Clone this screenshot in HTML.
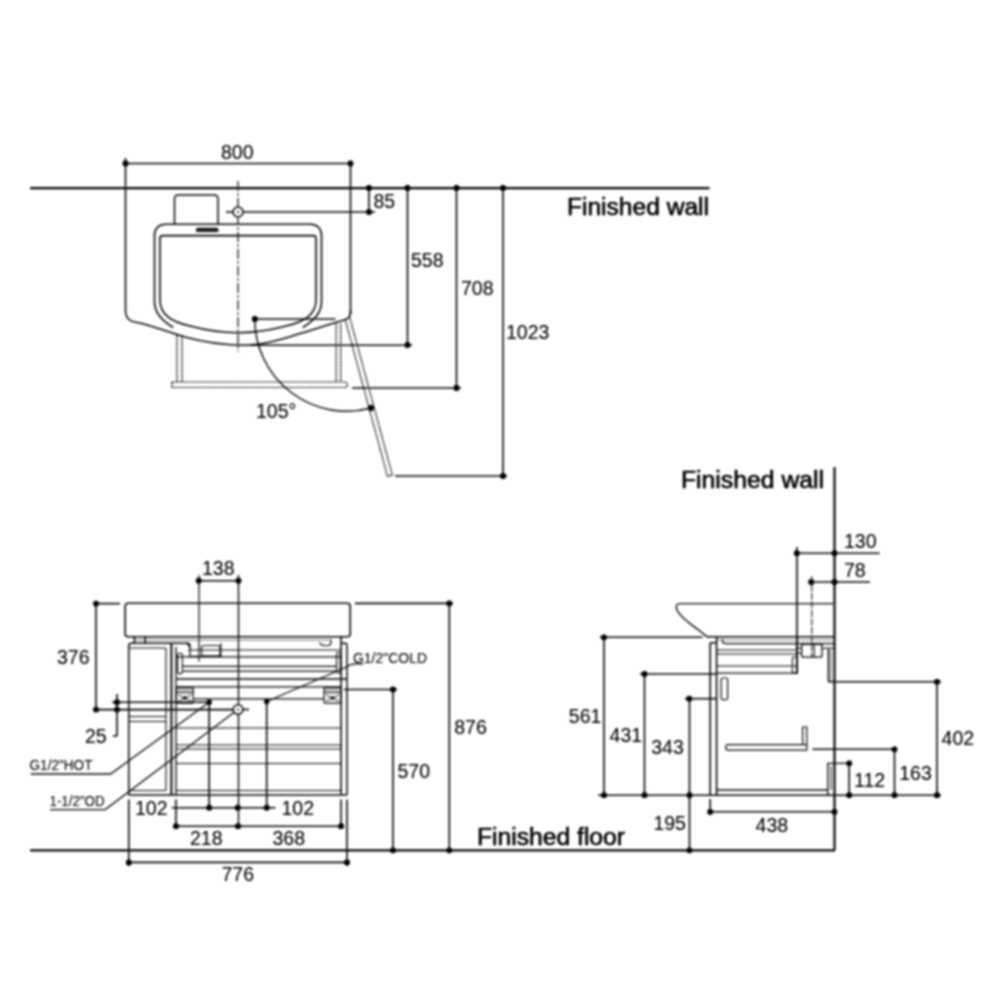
<!DOCTYPE html>
<html><head><meta charset="utf-8"><style>
html,body{margin:0;padding:0;background:#fff;width:1000px;height:1000px;overflow:hidden}
svg{display:block}
text{font-family:"Liberation Sans",sans-serif;fill:#404040;stroke:#404040;stroke-width:0px}
text.big{stroke-width:0.5px}
</style></head><body>
<svg width="1000" height="1000" viewBox="0 0 1000 1000" stroke-linecap="butt">
<defs><filter id="bl" filterUnits="userSpaceOnUse" x="0" y="0" width="1000" height="1000" color-interpolation-filters="sRGB">
<feComponentTransfer><feFuncR type="linear" slope="1.4" intercept="-0.3999999999999999"/><feFuncG type="linear" slope="1.4" intercept="-0.3999999999999999"/><feFuncB type="linear" slope="1.4" intercept="-0.3999999999999999"/></feComponentTransfer>
<feGaussianBlur stdDeviation="1"/></filter></defs>
<rect x="0" y="0" width="1000" height="1000" fill="#fff"/>
<g filter="url(#bl)"><rect x="0" y="0" width="1000" height="1000" fill="#fff"/>
<line x1="30" y1="188.2" x2="709.5" y2="188.2" stroke="#4d4d4d" stroke-width="2.3" />
<text x="567" y="215.3" font-size="23" text-anchor="start" textLength="142" lengthAdjust="spacingAndGlyphs" class="big">Finished wall</text>
<line x1="125.5" y1="163.5" x2="350.5" y2="163.5" stroke="#4d4d4d" stroke-width="1.6" />
<circle cx="125.5" cy="163.5" r="2.9" fill="#222"/>
<circle cx="350.5" cy="163.5" r="2.9" fill="#222"/>
<line x1="125.5" y1="158" x2="125.5" y2="310" stroke="#4d4d4d" stroke-width="1.6" />
<line x1="350.5" y1="163.5" x2="350.5" y2="314" stroke="#4d4d4d" stroke-width="1.6" />
<text x="221" y="158.5" font-size="19.5" text-anchor="start">800</text>
<path d="M125.5,310 C125.5,318 129,321 137,322.5 C150,325 165,331 185,337 C205,342.5 222,345.3 245,345.3" stroke="#4d4d4d" stroke-width="1.6" fill="none" />
<path d="M350.5,310 V312 C350.5,316 349,318.5 345,319.8 C330,324 300,334 280,339.5 C268,343 258,345 245,345.3" stroke="#4d4d4d" stroke-width="1.6" fill="none" />
<path d="M174.5,224.3 V199 C174.5,196.5 176,195 178.5,195 H214 C216.5,195 218,196.5 218,199 V224.3" stroke="#4d4d4d" stroke-width="1.5" fill="none" />
<path d="M173.3,327.5 C164,322 154.5,314 154.5,302 V235 C154.5,228.5 159,224.3 165.5,224.3 H310.5 C317,224.3 321.5,228.5 321.5,235 V302 C321.5,314 312,322 302.7,327.5" stroke="#4d4d4d" stroke-width="1.6" fill="none" />
<rect x="196.5" y="228.3" width="21.5" height="3.2" rx="1.6" stroke="#4d4d4d" stroke-width="1.2" fill="#666"/>
<path d="M160,238 C160,236.2 161,235.6 163,235.6 H313 C315,235.6 316,236.2 316,238 V300 C316,315 304,322 286,326 C271,330 254,332.7 238,332.7 C222,332.7 205,330 190,326 C172,322 160,315 160,300 Z" stroke="#4d4d4d" stroke-width="1.6" fill="none" />
<line x1="238" y1="181" x2="238" y2="352" stroke="#666" stroke-width="1.4" stroke-dasharray="10 2.2 2.5 2.3"/>
<line x1="226" y1="212" x2="375" y2="212" stroke="#4d4d4d" stroke-width="1.6" />
<line x1="369" y1="188" x2="369" y2="212" stroke="#4d4d4d" stroke-width="1.6" />
<circle cx="369" cy="188" r="2.9" fill="#222"/>
<circle cx="369" cy="212" r="2.9" fill="#222"/>
<circle cx="238" cy="212" r="5" stroke="#4d4d4d" stroke-width="1.5" fill="#fff"/>
<circle cx="238" cy="212" r="1.1" fill="#555"/>
<text x="373.5" y="207.5" font-size="19.5" text-anchor="start">85</text>
<line x1="407.5" y1="188" x2="407.5" y2="345" stroke="#4d4d4d" stroke-width="1.6" />
<circle cx="407.5" cy="188" r="2.9" fill="#222"/>
<circle cx="407.5" cy="345" r="2.9" fill="#222"/>
<line x1="250" y1="345.2" x2="412" y2="345.2" stroke="#4d4d4d" stroke-width="1.6" />
<text x="411" y="267.3" font-size="19.5" text-anchor="start">558</text>
<line x1="456.5" y1="188" x2="456.5" y2="388" stroke="#4d4d4d" stroke-width="1.6" />
<circle cx="456.5" cy="188" r="2.9" fill="#222"/>
<circle cx="456.5" cy="388" r="2.9" fill="#222"/>
<line x1="352" y1="388" x2="461" y2="388" stroke="#4d4d4d" stroke-width="1.6" />
<text x="461" y="295.3" font-size="19.5" text-anchor="start">708</text>
<line x1="503" y1="188" x2="503" y2="476" stroke="#4d4d4d" stroke-width="1.6" />
<circle cx="503" cy="188" r="2.9" fill="#222"/>
<circle cx="503" cy="476" r="2.9" fill="#222"/>
<line x1="395" y1="476" x2="507" y2="476" stroke="#4d4d4d" stroke-width="1.6" />
<text x="506" y="339.3" font-size="19.5" text-anchor="start">1023</text>
<line x1="254.8" y1="319" x2="335.5" y2="319" stroke="#4d4d4d" stroke-width="1.6" />
<circle cx="254.8" cy="319" r="2.9" fill="#222"/>
<line x1="177" y1="335" x2="177" y2="382" stroke="#3d3d3d" stroke-width="1.2" stroke-dasharray="2.4 1"/>
<line x1="182" y1="335" x2="182" y2="382" stroke="#3d3d3d" stroke-width="1.2" stroke-dasharray="2.4 1"/>
<line x1="336.2" y1="323.7" x2="336.2" y2="382" stroke="#3d3d3d" stroke-width="1.2" stroke-dasharray="2.4 1"/>
<line x1="340.7" y1="323.7" x2="340.7" y2="382" stroke="#3d3d3d" stroke-width="1.2" stroke-dasharray="2.4 1"/>
<path d="M172,382 H345 C348,382 348.5,387.5 345,387.5 H172 Z" stroke="#3d3d3d" stroke-width="1.2" fill="none" stroke-dasharray="2.4 1"/>
<line x1="345.09" y1="319.15" x2="387.55" y2="476.52" stroke="#3d3d3d" stroke-width="1.2" stroke-dasharray="2.4 1"/>
<line x1="349.91" y1="317.85" x2="392.38" y2="475.22" stroke="#3d3d3d" stroke-width="1.2" stroke-dasharray="2.4 1"/>
<line x1="387.55" y1="476.52" x2="392.38" y2="475.22" stroke="#4d4d4d" stroke-width="1.1" />
<path d="M254.8,319 A92,92 0 0 0 371,408" stroke="#4d4d4d" stroke-width="1.4" fill="none" />
<circle cx="371" cy="408" r="2.9" fill="#222"/>
<text x="256" y="418.3" font-size="19.5" text-anchor="start">105°</text>
<line x1="30" y1="850.3" x2="835" y2="850.3" stroke="#4d4d4d" stroke-width="2.3" />
<text x="477" y="845.3" font-size="23" text-anchor="start" textLength="148" lengthAdjust="spacingAndGlyphs" class="big">Finished floor</text>
<rect x="125.2" y="603.2" width="225" height="33.6" rx="3" stroke="#4d4d4d" stroke-width="1.6" fill="none"/>
<line x1="96" y1="603.6" x2="96" y2="709.6" stroke="#4d4d4d" stroke-width="1.6" />
<circle cx="96" cy="603.6" r="2.9" fill="#222"/>
<circle cx="96" cy="709.6" r="2.9" fill="#222"/>
<line x1="96" y1="603.6" x2="120" y2="603.6" stroke="#4d4d4d" stroke-width="1.6" />
<text x="57" y="664.3" font-size="19.5" text-anchor="start">376</text>
<line x1="117" y1="694" x2="117" y2="736" stroke="#4d4d4d" stroke-width="1.6" />
<line x1="113" y1="736" x2="117" y2="736" stroke="#4d4d4d" stroke-width="1.6" />
<circle cx="117" cy="702.2" r="2.9" fill="#222"/>
<circle cx="117" cy="709.6" r="2.9" fill="#222"/>
<text x="85" y="743.3" font-size="19.5" text-anchor="start">25</text>
<line x1="112" y1="702.2" x2="209" y2="702.2" stroke="#4d4d4d" stroke-width="1.6" />
<line x1="96" y1="709.6" x2="233" y2="709.6" stroke="#4d4d4d" stroke-width="1.6" />
<line x1="198.7" y1="580.7" x2="238.5" y2="580.7" stroke="#4d4d4d" stroke-width="1.6" />
<circle cx="198.7" cy="580.7" r="2.9" fill="#222"/>
<circle cx="238.5" cy="580.7" r="2.9" fill="#222"/>
<line x1="199" y1="575" x2="199" y2="661.6" stroke="#4d4d4d" stroke-width="1.2" />
<line x1="238.5" y1="575" x2="238.5" y2="828" stroke="#4d4d4d" stroke-width="1.4" />
<text x="202" y="575.3" font-size="19.5" text-anchor="start">138</text>
<line x1="134.4" y1="636.6" x2="134.4" y2="643.2" stroke="#4d4d4d" stroke-width="1.6" />
<line x1="145.2" y1="636.6" x2="145.2" y2="643.2" stroke="#4d4d4d" stroke-width="1.6" />
<path d="M128.8,795 V645.5 C128.8,644 129.8,643.2 131,643.2 H188 C189.5,643.2 190,645 190,647" stroke="#4d4d4d" stroke-width="1.5" fill="none" />
<line x1="171.4" y1="643.2" x2="171.4" y2="795" stroke="#4d4d4d" stroke-width="2" />
<line x1="166" y1="648" x2="166" y2="790.5" stroke="#4d4d4d" stroke-width="1.1" />
<line x1="129" y1="648" x2="166" y2="648" stroke="#4d4d4d" stroke-width="1.1" />
<line x1="176" y1="647" x2="176" y2="795" stroke="#4d4d4d" stroke-width="1.3" />
<line x1="129" y1="716.5" x2="166" y2="716.5" stroke="#4d4d4d" stroke-width="1.2" />
<line x1="129" y1="721.5" x2="166" y2="721.5" stroke="#4d4d4d" stroke-width="1.2" />
<line x1="129" y1="790.5" x2="166" y2="790.5" stroke="#4d4d4d" stroke-width="1.2" />
<path d="M341.1,643.2 H345 C346.3,643.2 347,644 347,645.5 V795" stroke="#4d4d4d" stroke-width="1.5" fill="none" />
<line x1="341.1" y1="636.8" x2="341.1" y2="795" stroke="#4d4d4d" stroke-width="1.6" />
<line x1="188" y1="650" x2="341.1" y2="650" stroke="#4d4d4d" stroke-width="1.2" />
<line x1="176" y1="656.8" x2="341.1" y2="656.8" stroke="#4d4d4d" stroke-width="1.2" />
<line x1="182.4" y1="666.4" x2="336.6" y2="666.4" stroke="#4d4d4d" stroke-width="1.2" />
<line x1="182.4" y1="671.2" x2="336.6" y2="671.2" stroke="#4d4d4d" stroke-width="1.2" />
<line x1="176" y1="679" x2="347" y2="679" stroke="#4d4d4d" stroke-width="1.5" />
<line x1="176" y1="686.8" x2="341.1" y2="686.8" stroke="#4d4d4d" stroke-width="1.2" />
<line x1="193.2" y1="698.9" x2="324" y2="698.9" stroke="#4d4d4d" stroke-width="1.2" />
<line x1="176" y1="728" x2="341.1" y2="728" stroke="#4d4d4d" stroke-width="1.2" />
<line x1="176" y1="745" x2="341.1" y2="745" stroke="#4d4d4d" stroke-width="1.2" />
<line x1="176" y1="749" x2="341.1" y2="749" stroke="#4d4d4d" stroke-width="1.2" />
<line x1="176" y1="763.5" x2="341.1" y2="763.5" stroke="#4d4d4d" stroke-width="1.2" />
<line x1="176" y1="790.5" x2="341.1" y2="790.5" stroke="#4d4d4d" stroke-width="1.2" />
<line x1="128.8" y1="795" x2="347" y2="795" stroke="#4d4d4d" stroke-width="1.5" />
<line x1="134" y1="640" x2="331" y2="640" stroke="#888" stroke-width="0.9" />
<path d="M186.4,643.2 L190,647 V656.4 H220.8 V643.2" stroke="#4d4d4d" stroke-width="1.2" fill="none" />
<rect x="201.6" y="645.5" width="18.4" height="10.5" rx="2" stroke="#4d4d4d" stroke-width="1.1" fill="none"/>
<path d="M319.5,642.5 C320.5,644.8 322,645.5 325,645.5 H328 C330,645.5 331,644 331,641.5 V639.5" stroke="#4d4d4d" stroke-width="1.2" fill="none" />
<rect x="177.6" y="653.2" width="4.8" height="20.4" rx="1.5" stroke="#4d4d4d" stroke-width="1.1" fill="none"/>
<rect x="336.6" y="652.5" width="3.6" height="20.7" rx="1.5" stroke="#4d4d4d" stroke-width="1.1" fill="none"/>
<rect x="176.4" y="687.6" width="16.8" height="15.6" rx="1" stroke="#4d4d4d" stroke-width="1.2" fill="none"/>
<line x1="176.4" y1="690.2" x2="193.20000000000002" y2="690.2" stroke="#777" stroke-width="0.9" />
<line x1="176.4" y1="692.6" x2="193.20000000000002" y2="692.6" stroke="#4d4d4d" stroke-width="1.1" />
<circle cx="184.8" cy="698" r="1.8" fill="#333"/>
<line x1="178.4" y1="695" x2="191.20000000000002" y2="701" stroke="#555" stroke-width="1" />
<line x1="178.4" y1="701" x2="191.20000000000002" y2="695" stroke="#555" stroke-width="1" />
<rect x="324" y="687.6" width="17.1" height="15.6" rx="1" stroke="#4d4d4d" stroke-width="1.2" fill="none"/>
<line x1="324" y1="690.2" x2="341.1" y2="690.2" stroke="#777" stroke-width="0.9" />
<line x1="324" y1="692.6" x2="341.1" y2="692.6" stroke="#4d4d4d" stroke-width="1.1" />
<circle cx="332.55" cy="698" r="1.8" fill="#333"/>
<line x1="326" y1="695" x2="339.1" y2="701" stroke="#555" stroke-width="1" />
<line x1="326" y1="701" x2="339.1" y2="695" stroke="#555" stroke-width="1" />
<line x1="344" y1="689.5" x2="397" y2="689.5" stroke="#4d4d4d" stroke-width="1.6" />
<line x1="393" y1="689.5" x2="393" y2="850.3" stroke="#4d4d4d" stroke-width="1.6" />
<circle cx="393" cy="689.5" r="2.9" fill="#222"/>
<circle cx="393" cy="850.3" r="2.9" fill="#222"/>
<text x="397.5" y="778" font-size="19.5" text-anchor="start">570</text>
<line x1="355" y1="603.4" x2="453" y2="603.4" stroke="#4d4d4d" stroke-width="1.6" />
<line x1="449.3" y1="603.4" x2="449.3" y2="850.3" stroke="#4d4d4d" stroke-width="1.6" />
<circle cx="449.3" cy="603.4" r="2.9" fill="#222"/>
<circle cx="449.3" cy="850.3" r="2.9" fill="#222"/>
<text x="454.2" y="734" font-size="19.5" text-anchor="start">876</text>
<line x1="209.2" y1="702" x2="209.2" y2="807.7" stroke="#4d4d4d" stroke-width="1.6" />
<line x1="266.7" y1="701.5" x2="266.7" y2="807.7" stroke="#4d4d4d" stroke-width="1.6" />
<circle cx="209.2" cy="702.2" r="2.6" fill="#222"/>
<circle cx="266.7" cy="701.5" r="2.6" fill="#222"/>
<circle cx="238" cy="709.5" r="4.8" stroke="#4d4d4d" stroke-width="1.5" fill="#fff"/>
<circle cx="238" cy="709.5" r="1.1" fill="#555"/>
<line x1="242.6" y1="709.5" x2="249" y2="709.5" stroke="#4d4d4d" stroke-width="1.6" />
<path d="M30.8,774 H110.6 L209.2,702.2" stroke="#4d4d4d" stroke-width="1.3" fill="none" />
<path d="M50,809.6 H105.2 L234.5,712" stroke="#4d4d4d" stroke-width="1.3" fill="none" />
<path d="M266.7,701.5 L346.5,667 Q350,664 355.5,663.8 H363.4" stroke="#4d4d4d" stroke-width="1.3" fill="none" />
<text x="29.5" y="769.8" font-size="14.8" text-anchor="start" textLength="63" lengthAdjust="spacingAndGlyphs">G1/2&quot;HOT</text>
<text x="49.5" y="805.8" font-size="14.8" text-anchor="start" textLength="55" lengthAdjust="spacingAndGlyphs">1-1/2&quot;OD</text>
<text x="353" y="662.6" font-size="15" text-anchor="start" textLength="74" lengthAdjust="spacingAndGlyphs">G1/2&quot;COLD</text>
<line x1="171.7" y1="807.7" x2="275.5" y2="807.7" stroke="#4d4d4d" stroke-width="1.6" />
<circle cx="209.2" cy="807.7" r="2.9" fill="#222"/>
<circle cx="237.7" cy="807.7" r="2.9" fill="#222"/>
<circle cx="266.7" cy="807.7" r="2.9" fill="#222"/>
<text x="135" y="814.5" font-size="19.5" text-anchor="start">102</text>
<text x="281.5" y="814.5" font-size="19.5" text-anchor="start">102</text>
<line x1="176" y1="799.5" x2="176" y2="828" stroke="#4d4d4d" stroke-width="1.6" />
<line x1="341.1" y1="799.5" x2="341.1" y2="826.4" stroke="#4d4d4d" stroke-width="1.6" />
<line x1="176" y1="826.2" x2="341.1" y2="826.2" stroke="#4d4d4d" stroke-width="1.6" />
<circle cx="176" cy="826.2" r="2.9" fill="#222"/>
<circle cx="238" cy="826.2" r="2.9" fill="#222"/>
<circle cx="341.1" cy="826.2" r="2.9" fill="#222"/>
<text x="190" y="845.3" font-size="19.5" text-anchor="start">218</text>
<text x="272.5" y="845.3" font-size="19.5" text-anchor="start">368</text>
<line x1="128.8" y1="799.5" x2="128.8" y2="866" stroke="#4d4d4d" stroke-width="1.6" />
<line x1="347" y1="799.5" x2="347" y2="866" stroke="#4d4d4d" stroke-width="1.6" />
<line x1="128.8" y1="862.4" x2="347" y2="862.4" stroke="#4d4d4d" stroke-width="1.6" />
<circle cx="128.8" cy="862.4" r="2.9" fill="#222"/>
<circle cx="347" cy="862.4" r="2.9" fill="#222"/>
<text x="221.5" y="881.3" font-size="19.5" text-anchor="start">776</text>
<line x1="834.5" y1="467" x2="834.5" y2="850.3" stroke="#4d4d4d" stroke-width="2.2" />
<text x="681" y="487.7" font-size="23" text-anchor="start" textLength="143" lengthAdjust="spacingAndGlyphs" class="big">Finished wall</text>
<line x1="796.8" y1="553.2" x2="879.6" y2="553.2" stroke="#4d4d4d" stroke-width="1.6" />
<circle cx="796.8" cy="553.2" r="2.9" fill="#222"/>
<circle cx="834.5" cy="553.2" r="2.9" fill="#222"/>
<line x1="797" y1="547" x2="797" y2="674" stroke="#4d4d4d" stroke-width="1.6" />
<text x="844" y="548.2" font-size="19.5" text-anchor="start">130</text>
<line x1="811.2" y1="582" x2="870" y2="582" stroke="#4d4d4d" stroke-width="1.6" />
<circle cx="811.2" cy="582" r="2.9" fill="#222"/>
<circle cx="834.5" cy="582" r="2.9" fill="#222"/>
<line x1="811.8" y1="576" x2="811.8" y2="657" stroke="#666" stroke-width="1.2" stroke-dasharray="7 1.5"/>
<text x="844" y="576.7" font-size="19.5" text-anchor="start">78</text>
<path d="M833,603.6 H680 C676.5,603.6 675.5,606.5 677,610 C680.5,618 692,625 700,631 C704,634.5 705.5,637 709,637" stroke="#4d4d4d" stroke-width="1.4" fill="none" />
<line x1="708" y1="636.8" x2="834.5" y2="636.8" stroke="#4d4d4d" stroke-width="1.6" />
<line x1="600" y1="637.2" x2="702.4" y2="637.2" stroke="#4d4d4d" stroke-width="1.6" />
<circle cx="604" cy="637.3" r="2.9" fill="#222"/>
<line x1="604" y1="637.3" x2="604" y2="795.2" stroke="#4d4d4d" stroke-width="1.6" />
<circle cx="604" cy="795.2" r="2.9" fill="#222"/>
<text x="568.8" y="723.4" font-size="19.5" text-anchor="start">561</text>
<line x1="640" y1="674" x2="717" y2="674" stroke="#4d4d4d" stroke-width="1.6" />
<circle cx="644.5" cy="674" r="2.9" fill="#222"/>
<line x1="644.5" y1="674" x2="644.5" y2="795.2" stroke="#4d4d4d" stroke-width="1.6" />
<circle cx="644.5" cy="795.2" r="2.9" fill="#222"/>
<text x="609.6" y="741.8" font-size="19.5" text-anchor="start">431</text>
<line x1="685" y1="698.7" x2="717" y2="698.7" stroke="#4d4d4d" stroke-width="1.6" />
<circle cx="689.3" cy="698.7" r="2.9" fill="#222"/>
<line x1="689.5" y1="698.7" x2="689.5" y2="850.3" stroke="#4d4d4d" stroke-width="1.6" />
<circle cx="689.5" cy="795.2" r="2.9" fill="#222"/>
<circle cx="689.5" cy="850.3" r="2.9" fill="#222"/>
<text x="651.2" y="753.8" font-size="19.5" text-anchor="start">343</text>
<text x="653.4" y="830" font-size="19.5" text-anchor="start">195</text>
<line x1="598" y1="795.2" x2="941" y2="795.2" stroke="#4d4d4d" stroke-width="1.6" />
<line x1="710.2" y1="642.8" x2="710.2" y2="795.2" stroke="#4d4d4d" stroke-width="1.6" />
<line x1="716.6" y1="636.6" x2="716.6" y2="795.2" stroke="#4d4d4d" stroke-width="1.6" />
<line x1="710.2" y1="642.8" x2="716.6" y2="642.8" stroke="#4d4d4d" stroke-width="1.6" />
<path d="M722.4,638.8 V641 C722.4,643 724,643.6 726,643.6 H834" stroke="#4d4d4d" stroke-width="1.3" fill="none" />
<line x1="716.6" y1="790" x2="827.8" y2="790" stroke="#4d4d4d" stroke-width="1.6" />
<line x1="828.5" y1="649" x2="828.5" y2="682" stroke="#4d4d4d" stroke-width="1.6" />
<line x1="828.5" y1="681.8" x2="941" y2="681.8" stroke="#4d4d4d" stroke-width="1.6" />
<circle cx="937" cy="681.8" r="2.9" fill="#222"/>
<line x1="937" y1="681.8" x2="937" y2="795.2" stroke="#4d4d4d" stroke-width="1.6" />
<circle cx="937" cy="795.2" r="2.9" fill="#222"/>
<text x="941.6" y="745.2" font-size="19.5" text-anchor="start">402</text>
<path d="M827.8,795.2 V763.3 H849.2" stroke="#4d4d4d" stroke-width="1.3" fill="none" />
<line x1="831" y1="766" x2="831" y2="790" stroke="#4d4d4d" stroke-width="1" />
<line x1="812.4" y1="749.3" x2="894.5" y2="749.3" stroke="#4d4d4d" stroke-width="1.6" />
<circle cx="894.5" cy="749.3" r="2.9" fill="#222"/>
<line x1="894.5" y1="749.3" x2="894.5" y2="795.2" stroke="#4d4d4d" stroke-width="1.6" />
<circle cx="894.5" cy="795.2" r="2.9" fill="#222"/>
<text x="899.2" y="780" font-size="19.5" text-anchor="start">163</text>
<circle cx="849.2" cy="763.3" r="2.9" fill="#222"/>
<line x1="849.2" y1="763.3" x2="849.2" y2="795.2" stroke="#4d4d4d" stroke-width="1.6" />
<circle cx="849.2" cy="795.2" r="2.9" fill="#222"/>
<text x="854.1" y="786.9" font-size="19.5" text-anchor="start">112</text>
<path d="M728,744.6 H806.8 V727 H802.6 V744.6 M728,744.6 C725,744.6 725,750.2 728,750.2 H806.8 V744.6" stroke="#4d4d4d" stroke-width="1.2" fill="none" />
<line x1="716.6" y1="650" x2="797" y2="650" stroke="#4d4d4d" stroke-width="1.2" />
<line x1="716.6" y1="654" x2="797" y2="654" stroke="#4d4d4d" stroke-width="1.2" />
<line x1="716.6" y1="666" x2="797" y2="666" stroke="#4d4d4d" stroke-width="1.2" />
<line x1="716.6" y1="673.2" x2="797" y2="673.2" stroke="#4d4d4d" stroke-width="1.2" />
<rect x="792.4" y="657" width="4.6" height="16.2" rx="1" stroke="#4d4d4d" stroke-width="1.1" fill="none"/>
<line x1="797" y1="636.6" x2="797" y2="674" stroke="#4d4d4d" stroke-width="1.6" />
<rect x="801.6" y="644" width="20.4" height="13.2" rx="2" stroke="#4d4d4d" stroke-width="1.3" fill="none"/>
<line x1="797" y1="648.2" x2="801.6" y2="648.2" stroke="#4d4d4d" stroke-width="1.1" />
<line x1="797" y1="653" x2="801.6" y2="653" stroke="#4d4d4d" stroke-width="1.1" />
<line x1="814.2" y1="644" x2="814.2" y2="657.2" stroke="#4d4d4d" stroke-width="1.1" />
<line x1="822" y1="648.2" x2="834" y2="648.2" stroke="#4d4d4d" stroke-width="1.1" />
<line x1="716.6" y1="640.1" x2="834" y2="640.1" stroke="#999" stroke-width="0.9" />
<line x1="831" y1="650" x2="831" y2="681.8" stroke="#888" stroke-width="0.9" />
<rect x="721.2" y="678" width="6.4" height="21.6" rx="1.5" stroke="#4d4d4d" stroke-width="1.2" fill="none"/>
<line x1="710.2" y1="799" x2="710.2" y2="815" stroke="#4d4d4d" stroke-width="1.6" />
<line x1="710.2" y1="811.8" x2="834.3" y2="811.8" stroke="#4d4d4d" stroke-width="1.6" />
<circle cx="710.2" cy="811.8" r="2.9" fill="#222"/>
<circle cx="834.5" cy="811.8" r="2.9" fill="#222"/>
<text x="755.6" y="832.2" font-size="19.5" text-anchor="start">438</text>
</g></svg>
</body></html>
